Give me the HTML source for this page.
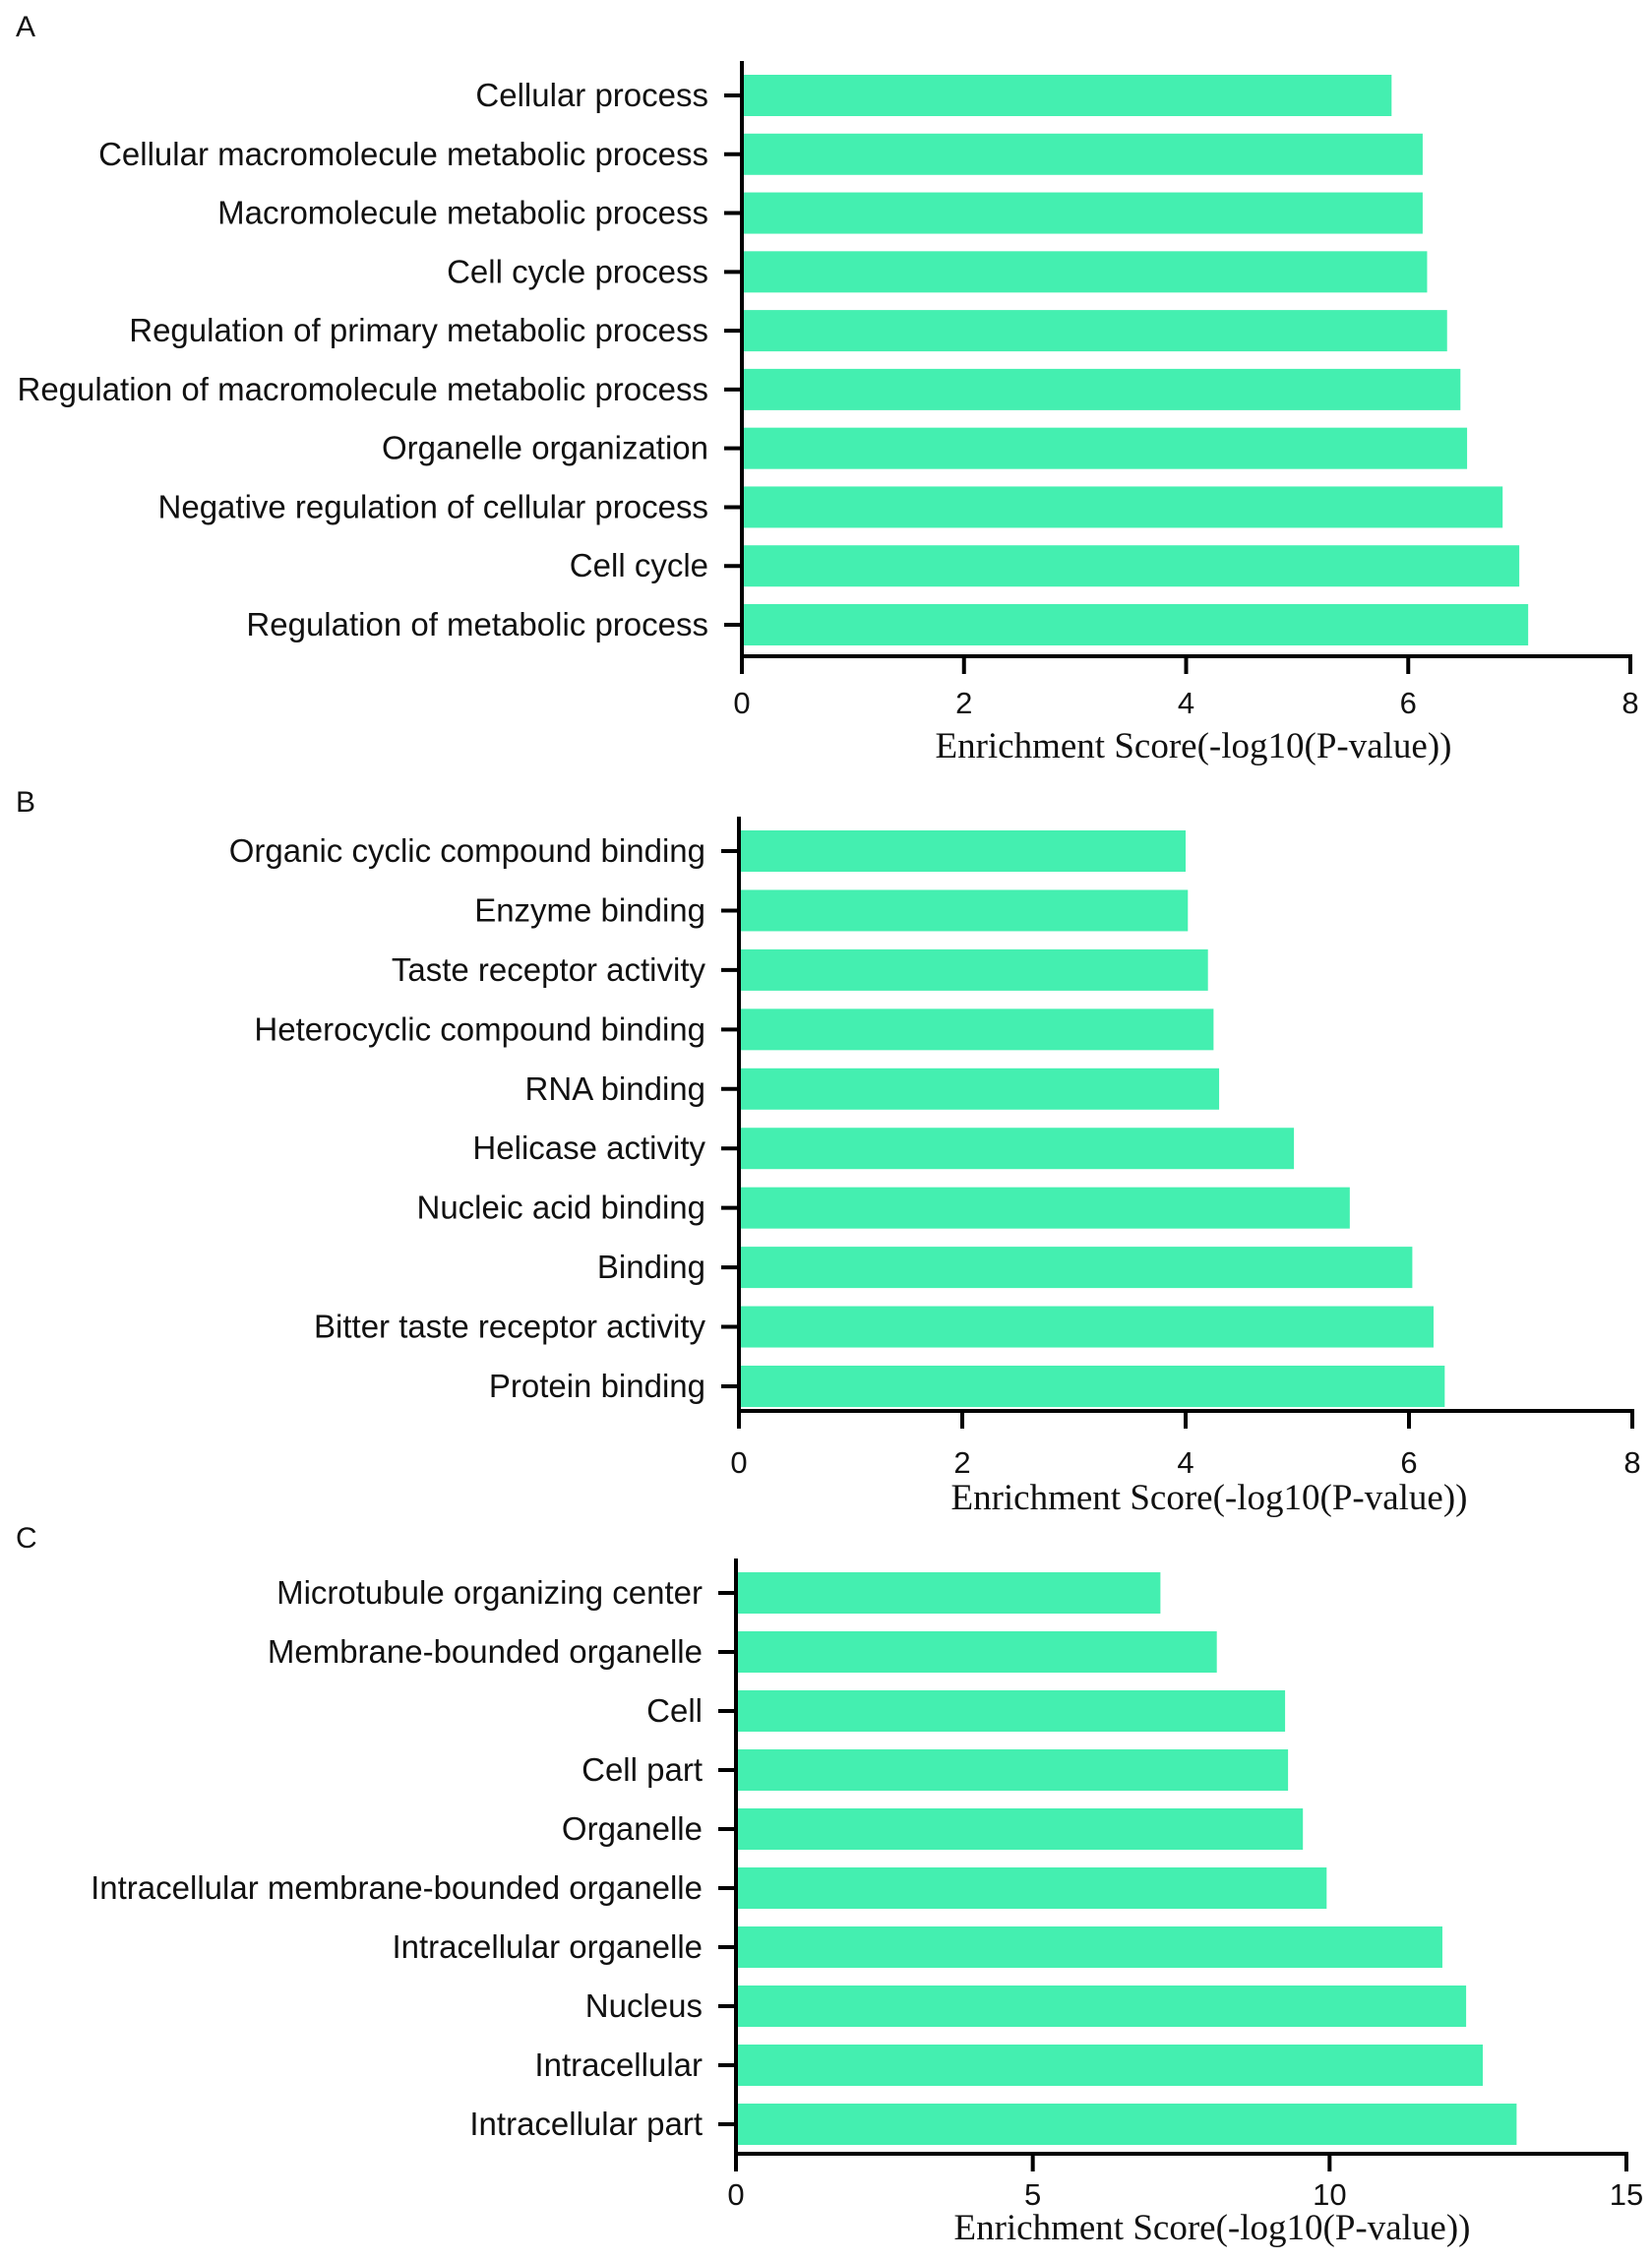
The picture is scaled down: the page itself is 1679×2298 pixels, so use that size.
<!DOCTYPE html>
<html><head><meta charset="utf-8">
<style>
html,body{margin:0;padding:0;background:#fff;}
svg{display:block;}
.lbl{font-family:"Liberation Sans",Arial,sans-serif;font-size:33px;fill:#111;}
.tick{font-family:"Liberation Sans",Arial,sans-serif;font-size:31px;fill:#111;}
.ttl{font-family:"Liberation Serif","Times New Roman",serif;font-size:37px;fill:#111;}
.pl{font-family:"Liberation Sans",Arial,sans-serif;font-size:30px;fill:#111;}
</style></head>
<body>
<svg id="fig" width="1679" height="2298" viewBox="0 0 1679 2298" xmlns="http://www.w3.org/2000/svg"></svg>
<script>
const catsA = ["Cellular process","Cellular macromolecule metabolic process","Macromolecule metabolic process","Cell cycle process","Regulation of primary metabolic process","Regulation of macromolecule metabolic process","Organelle organization","Negative regulation of cellular process","Cell cycle","Regulation of metabolic process"];
const valsA = [5.85,6.13,6.13,6.17,6.35,6.47,6.53,6.85,7.0,7.08];
const ticksA = [0,2,4,6,8];
const catsB = ["Organic cyclic compound binding","Enzyme binding","Taste receptor activity","Heterocyclic compound binding","RNA binding","Helicase activity","Nucleic acid binding","Binding","Bitter taste receptor activity","Protein binding"];
const valsB = [4.0,4.02,4.2,4.25,4.3,4.97,5.47,6.03,6.22,6.32];
const ticksB = [0,2,4,6,8];
const catsC = ["Microtubule organizing center","Membrane-bounded organelle","Cell","Cell part","Organelle","Intracellular membrane-bounded organelle","Intracellular organelle","Nucleus","Intracellular","Intracellular part"];
const valsC = [7.15,8.1,9.25,9.3,9.55,9.95,11.9,12.3,12.58,13.15];
const ticksC = [0,5,10,15];

const NS="http://www.w3.org/2000/svg";
const svg=document.getElementById('fig');
function mk(tag,attrs,parent){const e=document.createElementNS(NS,tag);for(const k in attrs)e.setAttribute(k,attrs[k]);(parent||svg).appendChild(e);return e;}

function panel(id,letter,letterY,cats,vals,ticks,x0,x1,yTop,yAxis,y1st,yLast,tickLabY,titleY,titleX){
  const g=mk('g',{});
  
  
  const max=ticks[ticks.length-1];
  const xs=v=>x0+(x1-x0)*v/max;
  const step=(yLast-y1st)/(cats.length-1);
  const ys=i=>y1st+i*step;
  const bh=42;
  const pl=mk('text',{x:16,y:letterY,class:'pl'},g);pl.textContent=letter;
  
  
  cats.forEach((c,i)=>{
    const r=mk('rect',{x:xs(0),y:ys(i)-bh/2,width:xs(vals[i])-xs(0),height:bh,fill:'#44efb0'},g);
    
    
    const tk=mk('line',{x1:x0-18,x2:x0,y1:ys(i),y2:ys(i),stroke:'#000','stroke-width':4},g);
    
    
    const t=mk('text',{x:x0-34,y:ys(i)+11,'text-anchor':'end',class:'lbl'},g);
    t.textContent=c;
    
    
  });
  const ya=mk('line',{x1:x0,x2:x0,y1:yTop,y2:yAxis+2,stroke:'#000','stroke-width':4},g);
  
  
  const xa=mk('line',{x1:x0-2,x2:x1+2,y1:yAxis,y2:yAxis,stroke:'#000','stroke-width':4},g);
  
  
  ticks.forEach(v=>{
    const l=mk('line',{x1:xs(v),x2:xs(v),y1:yAxis,y2:yAxis+18,stroke:'#000','stroke-width':4},g);
    
    
    const t=mk('text',{x:xs(v),y:tickLabY,'text-anchor':'middle',class:'tick'},g);
    t.textContent=v;
    
    
  });
  const tt=mk('text',{x:titleX,y:titleY,'text-anchor':'middle',class:'ttl'},g);
  tt.textContent='Enrichment Score(-log10(P-value))';
  
  
}
panel('a','A',37,catsA,valsA,ticksA,754,1657,62,667,97,635,725,770,1213);
panel('b','B',825,catsB,valsB,ticksB,751,1659,830,1434,865,1409,1497,1534,1229);
panel('c','C',1573,catsC,valsC,ticksC,748,1653,1584,2189,1619,2159,2241,2276,1232);
</script>
</body></html>
